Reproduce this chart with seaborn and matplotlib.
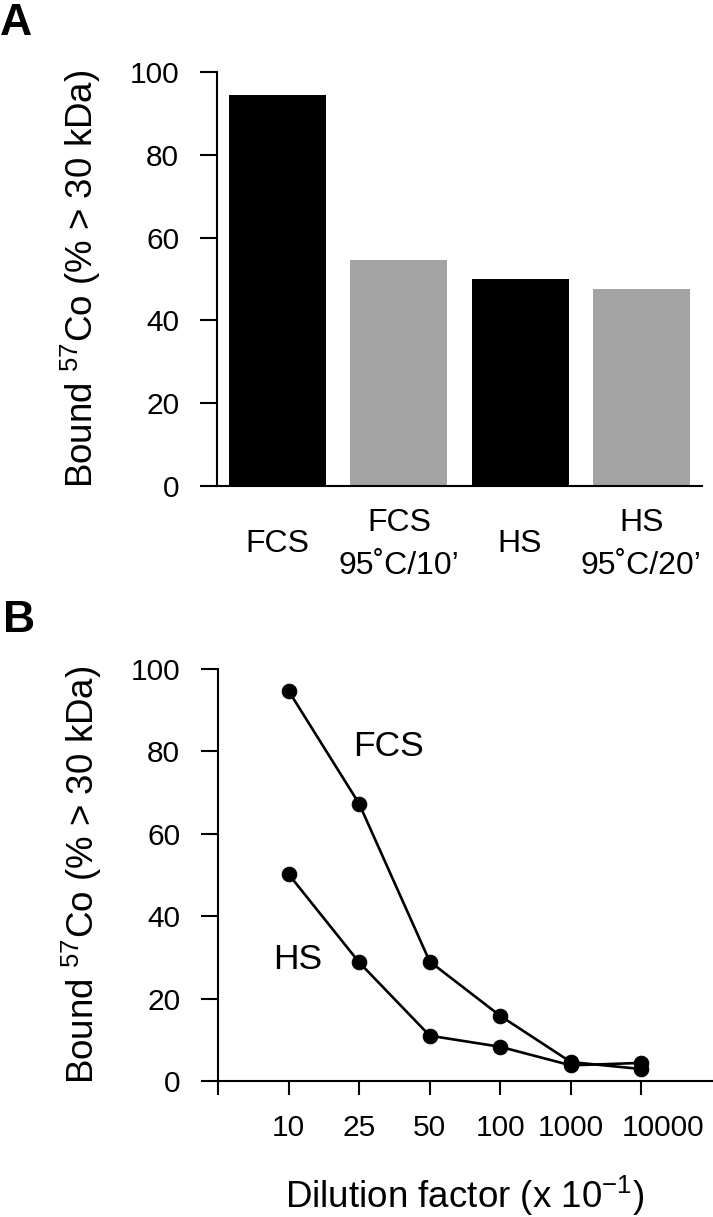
import matplotlib
matplotlib.use("Agg")
import matplotlib.pyplot as plt
import matplotlib.transforms as mtransforms
import seaborn as sns
import numpy as np
import pandas as pd

# ---- data ----
bar_categories = ["FCS", "FCS\n95\u02daC/10\u2019", "HS", "HS\n95\u02daC/20\u2019"]
bar_values = [94.5, 54.5, 50.0, 47.5]
bar_colors = ["#000000", "#a3a3a3", "#000000", "#a3a3a3"]

dilution_labels = ["10", "25", "50", "100", "1000", "10000"]
fcs_values = [94.7, 67.3, 29.0, 15.8, 4.6, 2.9]
hs_values = [50.2, 28.8, 11.0, 8.3, 3.8, 4.4]

y_ticks = [0, 20, 40, 60, 80, 100]

sns.set_style("ticks")
plt.rcParams["font.family"] = ["Liberation Sans", "DejaVu Sans"]
plt.rcParams["mathtext.fontset"] = "custom"
plt.rcParams["mathtext.rm"] = "Liberation Sans"
plt.rcParams["mathtext.it"] = "Liberation Sans"
plt.rcParams["axes.linewidth"] = 1.5
for k in ["text.color", "axes.labelcolor", "xtick.color", "ytick.color", "axes.edgecolor"]:
    plt.rcParams[k] = "black"

W, H = 713, 1217
fig = plt.figure(figsize=(W / 100, H / 100), dpi=100)

axA = fig.add_axes([217 / W, 1 - 486 / H, (702 - 217) / W, (486 - 72) / H])
axB = fig.add_axes([218 / W, 1 - 1081 / H, (712 - 218) / W, (1081 - 669) / H])

ylab = "Bound $^{57}$Co (% > 30 kDa)"

# ---- panel A ----
dfA = pd.DataFrame({"cat": bar_categories, "val": bar_values})
sns.barplot(data=dfA, x="cat", y="val", hue="cat", palette=bar_colors,
            legend=False, width=0.8, ax=axA, saturation=1, edgecolor="none")
axA.set_xlim(-0.5, 3.5)
axA.set_ylim(0, 100)
axA.set_yticks(y_ticks)
axA.set_xlabel("")
axA.set_ylabel(ylab, fontsize=26.5)
axA.yaxis.set_label_coords(-0.235, 0.5)
axA.tick_params(axis="y", length=12.2, width=1.5, labelsize=21.5, pad=15, color="black")
axA.tick_params(axis="x", length=0, labelsize=23, pad=42)
for lab in axA.get_xticklabels():
    lab.set_va("center")
    lab.set_multialignment("center")
    lab.set_linespacing(1.55)
sns.despine(ax=axA)

# ---- panel B ----
pos = np.arange(1, len(dilution_labels) + 1)
for vals in (fcs_values, hs_values):
    sns.lineplot(x=pos, y=vals, ax=axB, color="black", linewidth=1.9,
                 marker="o", markersize=10.5, markeredgecolor="black",
                 markerfacecolor="black")
axB.set_xlim(0, 7)
axB.set_ylim(0, 100)
axB.set_yticks(y_ticks)
axB.set_xticks(np.arange(0, len(dilution_labels) + 1))
axB.set_xticklabels([""] + dilution_labels)
axB.set_ylabel(ylab, fontsize=26.5)
axB.yaxis.set_label_coords(-0.231, 0.5)
axB.set_xlabel("Dilution factor (x 10$^{-1}$)", fontsize=26.5)
axB.xaxis.set_label_coords(0.5, -0.225)
axB.tick_params(axis="y", length=12.2, width=1.5, labelsize=21.5, pad=15, color="black")
axB.tick_params(axis="x", length=10, width=1.5, labelsize=21.5, pad=14, color="black")
# the last label sits slightly right of its tick in the original
last = axB.get_xticklabels()[-1]
last.set_transform(last.get_transform() +
                   mtransforms.ScaledTranslation(22 / 100, 0, fig.dpi_scale_trans))
axB.text(2.41, 81.3, "FCS", fontsize=25.5, ha="center", va="center")
axB.text(1.13, 29.6, "HS", fontsize=25.5, ha="center", va="center")
sns.despine(ax=axB)

# ---- panel letters ----
fig.text(0 / W, 1 - 3 / H, "A", fontsize=32, fontweight="bold", ha="left", va="top")
fig.text(3 / W, 1 - 600 / H, "B", fontsize=32, fontweight="bold", ha="left", va="top")

fig.savefig("out.png", dpi=100)
